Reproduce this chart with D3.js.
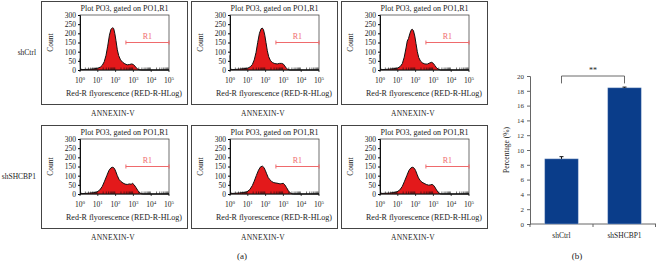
<!DOCTYPE html>
<html>
<head>
<meta charset="utf-8">
<script src="https://cdn.jsdelivr.net/npm/d3@7"></script>
<style>
  body { margin: 0; background: #fff; }
  text { font-family: "Liberation Serif", "DejaVu Serif", serif; }
</style>
</head>
<body>
<div></div>
<script>
// Flow histograms: [fluorescence, count]
var ctrl1 = [[1, 62], [1.08, 6], [1.3, 2], [2, 3], [3.5, 4], [6, 6], [10, 10], [14, 16], [18, 26], [23, 45], [29, 80], [36, 130], [45, 190], [55, 222], [68, 231], [78, 226], [90, 200], [105, 160], [125, 110], [150, 78], [190, 55], [250, 42], [330, 34], [450, 28], [600, 30], [800, 33], [1000, 30], [1200, 22], [1450, 12], [1800, 4], [2300, 1], [3000, 0], [100000, 0]];
var ctrl2 = [[1, 80], [1.08, 6], [1.3, 2], [2, 3], [3.5, 5], [6, 7], [10, 10], [14, 18], [18, 30], [23, 55], [29, 95], [36, 150], [45, 200], [56, 225], [65, 229], [76, 220], [90, 190], [105, 150], [125, 105], [150, 72], [190, 50], [250, 40], [330, 35], [450, 33], [600, 36], [800, 36], [1000, 32], [1200, 22], [1450, 10], [1800, 3], [2300, 0], [100000, 0]];
var ctrl3 = [[1, 85], [1.08, 6], [1.3, 2], [2, 3], [3.5, 5], [6, 7], [10, 11], [14, 20], [18, 35], [23, 70], [29, 120], [34, 158], [40, 172], [48, 200], [58, 220], [66, 222], [76, 214], [90, 185], [105, 145], [125, 100], [150, 68], [190, 48], [250, 38], [330, 33], [450, 32], [600, 38], [800, 42], [1000, 36], [1200, 25], [1500, 12], [1900, 4], [2500, 0], [100000, 0]];
var sh1 = [[1, 78], [1.08, 6], [1.3, 2], [2, 3], [3.5, 5], [6, 7], [9, 11], [13, 22], [18, 42], [24, 70], [32, 100], [42, 128], [55, 143], [70, 146], [85, 140], [100, 125], [125, 100], [155, 80], [200, 68], [260, 60], [340, 54], [450, 52], [600, 55], [750, 53], [900, 58], [1100, 50], [1400, 35], [1800, 18], [2300, 6], [2900, 1], [3500, 0], [100000, 0]];
var sh2 = [[1, 72], [1.08, 6], [1.3, 3], [2, 4], [3.5, 6], [6, 8], [9, 12], [13, 24], [18, 46], [23, 70], [30, 100], [40, 130], [52, 148], [66, 152], [80, 145], [95, 130], [115, 110], [140, 90], [175, 78], [220, 68], [290, 62], [380, 60], [500, 58], [650, 55], [800, 57], [1000, 58], [1200, 50], [1500, 35], [1900, 18], [2400, 6], [3000, 1], [3800, 0], [100000, 0]];
var sh3 = [[1, 75], [1.08, 6], [1.3, 3], [2, 4], [3.5, 5], [6, 8], [9, 12], [13, 22], [18, 42], [24, 70], [32, 100], [42, 128], [55, 143], [70, 146], [85, 140], [100, 128], [120, 108], [145, 88], [180, 74], [230, 64], [300, 58], [400, 52], [550, 48], [700, 50], [850, 52], [1000, 48], [1200, 38], [1500, 22], [1900, 8], [2400, 1], [3000, 0], [100000, 0]];

var rowLabels = ["shCtrl", "shSHCBP1"];
var histRows = [[ctrl1, ctrl2, ctrl3], [sh1, sh2, sh3]];
var countTicks = [0, 50, 100, 150, 200, 250, 300];
var decadeTicks = [1, 10, 100, 1000, 10000, 100000];
var gate = [380, 100000, 150];

// Bar chart
var groups = ["shCtrl", "shSHCBP1"];
var percent = [8.8, 18.4];
var percentErr = [0.3, 0.1];
var percentTicks = [0, 2, 4, 6, 8, 10, 12, 14, 16, 18, 20];

var width = 656, height = 261;
var svg = d3.select("div").append("svg")
  .attr("width", width)
  .attr("height", height);

var boxW = 146, boxH = 103;
var boxX = [41, 191, 341];
var boxY = [1, 125];
var plotL = 39, plotT = 14, plotW = 89, plotH = 55;

var x = d3.scaleLog().domain([1, 100000]).range([0, plotW]);
var y = d3.scaleLinear().domain([0, 300]).range([plotH, 0]);

var area = d3.area()
  .x(d => x(d[0]))
  .y0(plotH)
  .y1(d => y(d[1]));
var line = d3.line()
  .x(d => x(d[0]))
  .y(d => y(d[1]));

histRows.forEach(function(row, r) {
  svg.append("text")
    .attr("x", 36)
    .attr("y", boxY[r] + 54)
    .attr("text-anchor", "end")
    .style("font-size", "7.5px")
    .style("fill", "#222")
    .text(rowLabels[r]);

  row.forEach(function(hist, c) {
    let g = svg.append("g")
      .attr("transform", "translate(" + boxX[c] + "," + boxY[r] + ")");

    g.append("rect")
      .attr("x", 0.5).attr("y", 0.5)
      .attr("width", boxW).attr("height", boxH)
      .style("fill", "none")
      .style("stroke", "#444")
      .style("stroke-width", 1);

    g.append("text")
      .attr("x", plotL + plotW / 2)
      .attr("y", 10)
      .attr("text-anchor", "middle")
      .style("font-size", "8px")
      .style("fill", "#222")
      .text("Plot PO3, gated on PO1,R1");

    let p = g.append("g")
      .attr("transform", "translate(" + plotL + "," + plotT + ")");

    p.append("rect")
      .attr("width", plotW).attr("height", plotH)
      .style("fill", "none")
      .style("stroke", "#333")
      .style("stroke-width", 0.7);

    p.append("path")
      .datum(hist)
      .attr("d", area)
      .style("fill", "#e3191b");
    p.append("path")
      .datum(hist)
      .attr("d", line)
      .style("fill", "none")
      .style("stroke", "#111")
      .style("stroke-width", 1);

    // y axis
    let yAxis = d3.axisLeft(y).tickValues(countTicks).tickSize(2).tickPadding(2);
    let ya = p.append("g").call(yAxis);
    ya.selectAll("text").style("font-size", "7.5px").style("fill", "#222")
      .style("font-family", "Liberation Serif, serif");
    ya.select(".domain").style("stroke", "#111");

    // x axis: minor ticks inside
    let minors = [];
    for (let e = 0; e < 5; e++) {
      for (let m = 2; m < 10; m++) minors.push(m * Math.pow(10, e));
    }
    p.selectAll(".minor").data(minors).enter().append("line")
      .attr("x1", d => x(d)).attr("x2", d => x(d))
      .attr("y1", plotH).attr("y2", plotH - 2.5)
      .style("stroke", "#111").style("stroke-width", 0.6);
    p.append("line")
      .attr("x1", 0).attr("x2", plotW)
      .attr("y1", plotH).attr("y2", plotH)
      .style("stroke", "#111").style("stroke-width", 1);
    p.selectAll(".major").data(decadeTicks).enter().append("line")
      .attr("x1", d => x(d)).attr("x2", d => x(d))
      .attr("y1", plotH).attr("y2", plotH + 2)
      .style("stroke", "#111").style("stroke-width", 0.8);

    let tl = p.selectAll(".xl").data(decadeTicks).enter().append("text")
      .attr("x", d => x(d))
      .attr("y", plotH + 13)
      .attr("text-anchor", "middle")
      .style("font-size", "7.5px")
      .style("fill", "#222");
    tl.append("tspan").text("10");
    tl.append("tspan")
      .attr("dy", -3)
      .style("font-size", "5px")
      .text(d => Math.round(Math.log10(d)));

    // gate
    p.append("line")
      .attr("x1", x(gate[0])).attr("x2", x(gate[1]))
      .attr("y1", y(gate[2])).attr("y2", y(gate[2]))
      .style("stroke", "#ef6a6c").style("stroke-width", 1);
    p.selectAll(".gt").data([gate[0], gate[1]]).enter().append("line")
      .attr("x1", d => x(d)).attr("x2", d => x(d))
      .attr("y1", y(gate[2]) - 2).attr("y2", y(gate[2]) + 2)
      .style("stroke", "#ef6a6c").style("stroke-width", 1);
    p.append("text")
      .attr("x", (x(gate[0]) + x(gate[1])) / 2)
      .attr("y", y(gate[2]) - 4)
      .attr("text-anchor", "middle")
      .style("font-size", "8px")
      .style("fill", "#ef6a6c")
      .text("R1");

    g.append("text")
      .attr("transform", "translate(" + 12 + "," + (plotT + plotH / 2) + ") rotate(-90)")
      .attr("text-anchor", "middle")
      .style("font-size", "7.5px")
      .style("fill", "#222")
      .text("Count");

    g.append("text")
      .attr("x", 83)
      .attr("y", 95)
      .attr("text-anchor", "middle")
      .style("font-size", "8px")
      .style("fill", "#222")
      .text("Red-R flyorescence (RED-R-HLog)");

    svg.append("text")
      .attr("x", boxX[c] + 72)
      .attr("y", boxY[r] + boxH + 12)
      .attr("text-anchor", "middle")
      .style("font-size", "7.5px")
      .style("letter-spacing", "0.2px")
      .style("fill", "#222")
      .text("ANNEXIN-V");
  });
});

svg.append("text")
  .attr("x", 242).attr("y", 259)
  .attr("text-anchor", "middle")
  .style("font-size", "9px")
  .style("fill", "#222")
  .text("(a)");

// Bar chart (b)
var bx = d3.scaleBand().domain(groups).range([530, 656]).paddingInner(0.47).paddingOuter(0.235);
var by = d3.scaleLinear().domain([0, 20]).range([224, 76]);

var bAxis = svg.append("g")
  .attr("transform", "translate(530,0)")
  .call(d3.axisLeft(by).tickValues(percentTicks).tickSize(3).tickPadding(3));
bAxis.selectAll("text").style("font-size", "7px").style("fill", "#333")
  .style("font-family", "Liberation Serif, serif");
bAxis.selectAll("line, .domain").style("stroke", "#666");

svg.append("line")
  .attr("x1", 530).attr("x2", 656)
  .attr("y1", by(0)).attr("y2", by(0))
  .style("stroke", "#666");
var bounds = [bx.range()[0], bx.range()[0] + bx.step(), bx.range()[1] - 0.5];
svg.selectAll(".bt").data(bounds).enter().append("line")
  .attr("x1", d => d).attr("x2", d => d)
  .attr("y1", by(0)).attr("y2", by(0) + 3)
  .style("stroke", "#666");

svg.selectAll(".bar").data(groups).enter().append("rect")
  .attr("x", d => bx(d))
  .attr("y", (d, i) => by(percent[i]))
  .attr("width", bx.bandwidth())
  .attr("height", (d, i) => by(0) - by(percent[i]))
  .style("fill", "#0a3d8a")
  .style("stroke", "#9fb4d6")
  .style("stroke-width", 0.5);

groups.forEach(function(gname, i) {
  let cx = bx(gname) + bx.bandwidth() / 2;
  svg.append("line")
    .attr("x1", cx).attr("x2", cx)
    .attr("y1", by(percent[i] + percentErr[i])).attr("y2", by(percent[i]))
    .style("stroke", "#111").style("stroke-width", 1);
  svg.append("line")
    .attr("x1", cx - 2).attr("x2", cx + 2)
    .attr("y1", by(percent[i] + percentErr[i])).attr("y2", by(percent[i] + percentErr[i]))
    .style("stroke", "#111").style("stroke-width", 1);
  svg.append("text")
    .attr("x", cx)
    .attr("y", 238)
    .attr("text-anchor", "middle")
    .style("font-size", "7.5px")
    .style("fill", "#222")
    .text(gname);
});

// significance bracket
var c1 = bx(groups[0]) + bx.bandwidth() / 2;
var c2 = bx(groups[1]) + bx.bandwidth() / 2;
svg.append("path")
  .attr("d", "M" + c1 + "," + by(19) + "V" + by(20) + "H" + c2 + "V" + by(19))
  .style("fill", "none")
  .style("stroke", "#444")
  .style("stroke-width", 0.8);
svg.append("text")
  .attr("x", (c1 + c2) / 2)
  .attr("y", by(20) - 3)
  .attr("text-anchor", "middle")
  .style("font-size", "8px")
  .style("fill", "#222")
  .text("**");

svg.append("text")
  .attr("transform", "translate(509," + by(10) + ") rotate(-90)")
  .attr("text-anchor", "middle")
  .style("font-size", "7.5px")
  .style("fill", "#222")
  .text("Percentage (%)");

svg.append("text")
  .attr("x", 577).attr("y", 259)
  .attr("text-anchor", "middle")
  .style("font-size", "9px")
  .style("fill", "#222")
  .text("(b)");
</script>
</body>
</html>
